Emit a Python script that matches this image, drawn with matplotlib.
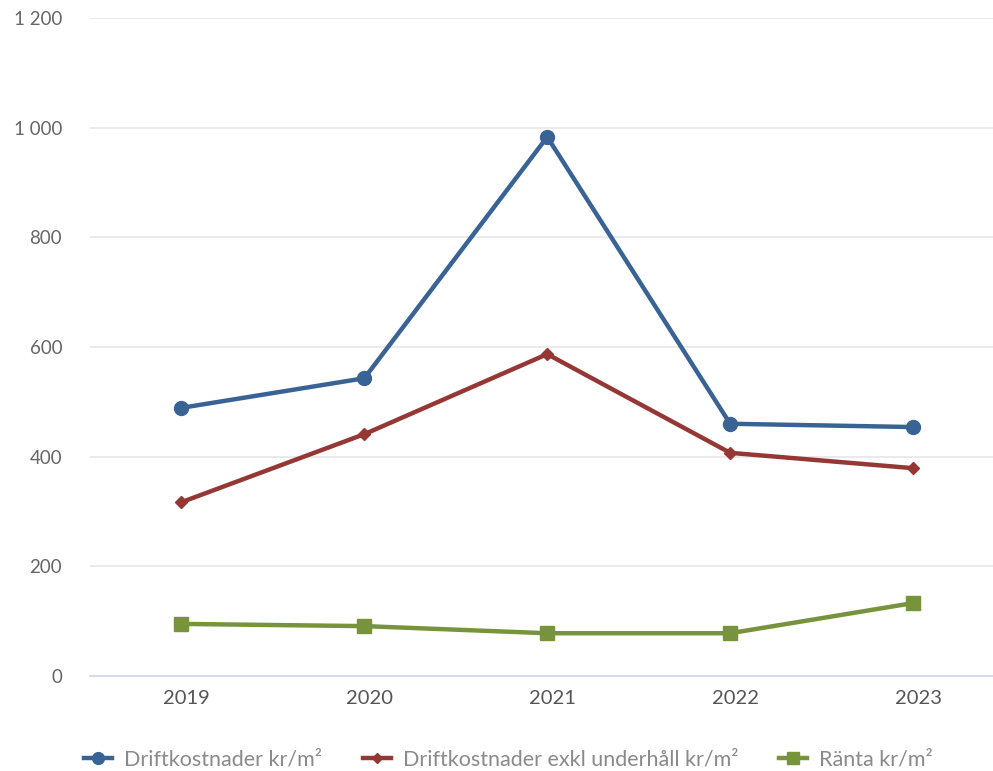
import matplotlib.pyplot as plt
import matplotlib.transforms as mtransforms
from matplotlib.ticker import FuncFormatter

plt.rcParams['font.family'] = ['Lato', 'DejaVu Sans']

years = ['2019', '2020', '2021', '2022', '2023']
drift = [489, 543, 983, 460, 454]
drift_exkl = [317, 441, 587, 407, 379]
ranta = [95, 91, 78, 78, 133]

fig = plt.figure(figsize=(9.93, 7.71), dpi=100)
ax = fig.add_axes([0.0906, 0.1232, 0.9094, 0.8535])

x = list(range(len(years)))
ax.plot(x, drift, color='#3a6395', lw=3.2, marker='o', ms=10, label='Driftkostnader kr/m²')
ax.plot(x, drift_exkl, color='#953735', lw=3.2, marker='D', ms=6.5, label='Driftkostnader exkl underhåll kr/m²')
ax.plot(x, ranta, color='#77933c', lw=3.2, marker='s', ms=9.5, label='Ränta kr/m²')

ax.set_ylim(0, 1200)
ax.set_xlim(-0.5, 4.437)
ax.set_yticks(range(0, 1201, 200))
ax.yaxis.set_major_formatter(FuncFormatter(lambda v, p: f'{int(v):,}'.replace(',', ' ')))
ax.set_xticks(x)
ax.set_xticklabels(years)

ax.grid(axis='y', color='#e6e6e6', lw=1.2)
ax.set_axisbelow(True)
for s in ['left', 'right', 'top']:
    ax.spines[s].set_visible(False)
ax.spines['bottom'].set_color('#ccd6eb')
ax.spines['bottom'].set_linewidth(1.2)
ax.tick_params(axis='y', length=0, pad=20, labelsize=13.5, labelcolor='#666666')
ax.tick_params(axis='x', length=0, pad=10, labelsize=14.5, labelcolor='#555555')
for lbl in ax.get_xticklabels():
    lbl.set_transform(lbl.get_transform() + mtransforms.ScaledTranslation(5 / 100, 0, fig.dpi_scale_trans))

leg = fig.legend(loc='lower center', bbox_to_anchor=(0.512, -0.012), ncol=3, frameon=False,
                 fontsize=15.5, handlelength=1.3, columnspacing=1.9, handletextpad=0.55,
                 markerscale=0.85, borderpad=0)
for t in leg.get_texts():
    t.set_color('#8a8a8a')

fig.savefig('out.png', dpi=100)
